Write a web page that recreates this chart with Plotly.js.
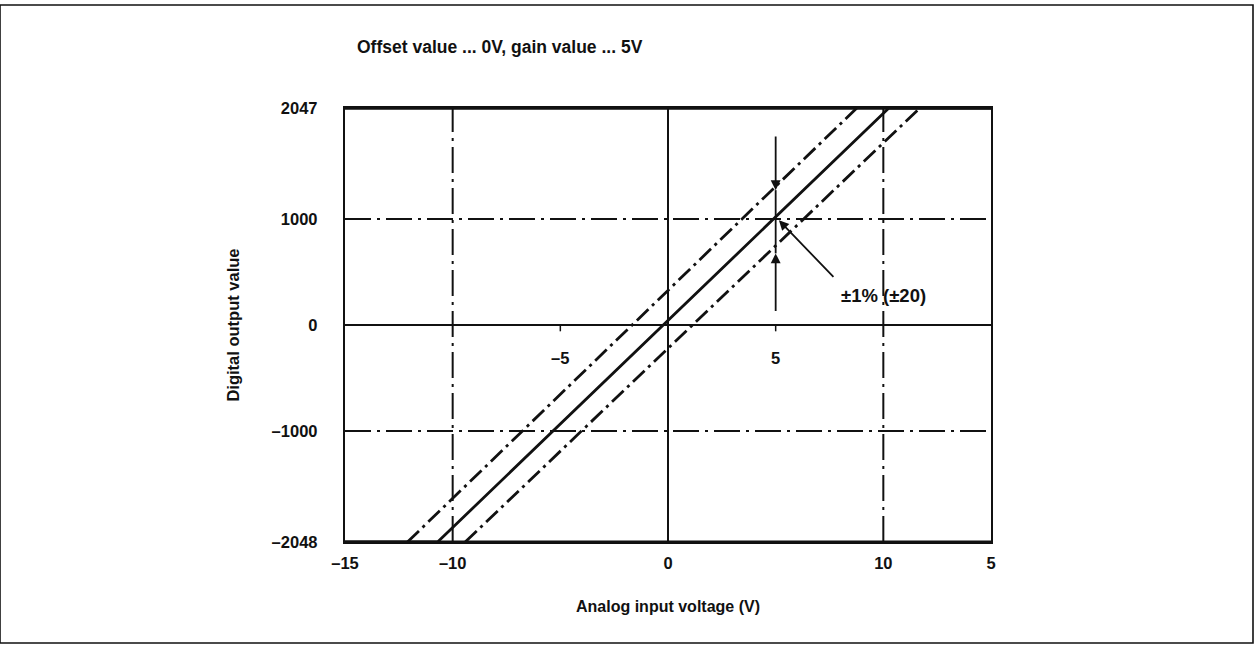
<!DOCTYPE html>
<html>
<head>
<meta charset="utf-8">
<script src="https://cdn.plot.ly/plotly-3.0.1.min.js"></script>
<style>
html,body{margin:0;padding:0;background:#fff;}
#chart{width:1259px;height:648px;}
</style>
</head>
<body>
<div id="chart"></div>
<script>
// ---- data ----
const idealVoltage = [-15, -10.7, 10.26, 15];
const idealDigital = [-2048, -2048, 2047, 2047];
const upperVoltage = [-12.1, 8.77];
const upperDigital = [-2048, 2047];
const lowerVoltage = [-9.42, 11.7];
const lowerDigital = [-2048, 2047];

const xTickVals = [-15, -10, 0, 10, 15];
const xTickText = ['–15', '–10', '0', '10', '5'];
const yTickVals = [-2048, -1000, 0, 1000, 2047];
const yTickText = ['–2048', '–1000', '0', '1000', '2047'];
const innerTickVals = [-5, 5];
const innerTickText = ['–5', '5'];
const gridX = [-10, 10];
const gridY = [-1000, 1000];

const gainVoltage = 5;
const arrowTopStart = 1792, arrowTopTip = 1272;
const arrowBotStart = 117, arrowBotTip = 675;
const pointerTail = [7.75, 439], pointerTip = [5.15, 988];
const bandLabel = '±1% (±20)';
const bandLabelPos = [7.95, 280];

const FONT = 'Liberation Sans, Arial, Helvetica, sans-serif';
const INK = '#111';
const dashDot = '16px,5px,3px,5px';
const gridDash = '26px,6px,3px,6px';

const traces = [
  {x: idealVoltage, y: idealDigital, mode: 'lines', line: {color: INK, width: 2.8}, hoverinfo: 'skip'},
  {x: upperVoltage, y: upperDigital, mode: 'lines', line: {color: INK, width: 2.8, dash: dashDot}, hoverinfo: 'skip'},
  {x: lowerVoltage, y: lowerDigital, mode: 'lines', line: {color: INK, width: 2.8, dash: dashDot}, hoverinfo: 'skip'}
];

const shapes = [];
gridX.forEach(v => shapes.push({type: 'line', xref: 'x', yref: 'paper', x0: v, x1: v, y0: 0, y1: 1,
  line: {color: INK, width: 2}, layer: 'below'}));
shapes.forEach(s => s.line.dash = gridDash);
gridY.forEach(v => shapes.push({type: 'line', xref: 'paper', yref: 'y', x0: 0, x1: 1, y0: v, y1: v,
  line: {color: INK, width: 2, dash: gridDash}, layer: 'below'}));
// solid zero lines
shapes.push({type: 'line', xref: 'x', yref: 'paper', x0: 0, x1: 0, y0: 0, y1: 1, line: {color: INK, width: 2}, layer: 'below'});
shapes.push({type: 'line', xref: 'paper', yref: 'y', x0: 0, x1: 1, y0: 0, y1: 0, line: {color: INK, width: 2}, layer: 'below'});
// small ticks under zero line
innerTickVals.forEach(v => shapes.push({type: 'line', xref: 'x', yref: 'y', x0: v, x1: v, y0: 0, y1: -60,
  line: {color: INK, width: 1.5}}));
// heavy top / bottom borders
shapes.push({type: 'line', xref: 'paper', yref: 'paper', x0: 0, x1: 1, y0: 1, y1: 1, line: {color: INK, width: 3.5}});
shapes.push({type: 'line', xref: 'paper', yref: 'paper', x0: 0, x1: 1, y0: 0, y1: 0, line: {color: INK, width: 3}});
// vertical measuring line between arrowheads
shapes.push({type: 'line', xref: 'x', yref: 'y', x0: gainVoltage, x1: gainVoltage, y0: arrowBotTip, y1: arrowTopTip,
  line: {color: INK, width: 1.8}});
// outer frame of the figure
shapes.push({type: 'rect', xref: 'paper', yref: 'paper', x0: -345/646, x1: (1253-345)/646, y0: -(643-542)/434, y1: (542-5)/434,
  line: {color: INK, width: 1.6}});

const annotations = [];
innerTickVals.forEach((v, i) => annotations.push({x: v, y: 0, xref: 'x', yref: 'y', text: innerTickText[i],
  showarrow: false, yshift: -33, font: {family: FONT, size: 16.5, color: INK, weight: 'bold'}}));
annotations.push({x: gainVoltage, y: arrowTopTip, ax: gainVoltage, ay: arrowTopStart, xref: 'x', yref: 'y', axref: 'x', ayref: 'y',
  text: '', showarrow: true, arrowhead: 2, arrowsize: 1.1, arrowwidth: 1.8, arrowcolor: INK});
annotations.push({x: gainVoltage, y: arrowBotTip, ax: gainVoltage, ay: arrowBotStart, xref: 'x', yref: 'y', axref: 'x', ayref: 'y',
  text: '', showarrow: true, arrowhead: 2, arrowsize: 1.1, arrowwidth: 1.8, arrowcolor: INK});
annotations.push({x: pointerTip[0], y: pointerTip[1], ax: pointerTail[0], ay: pointerTail[1], xref: 'x', yref: 'y', axref: 'x', ayref: 'y',
  text: '', showarrow: true, arrowhead: 2, arrowsize: 1.1, arrowwidth: 1.8, arrowcolor: INK});
annotations.push({x: bandLabelPos[0], y: bandLabelPos[1], xref: 'x', yref: 'y', text: bandLabel, showarrow: false,
  xanchor: 'left', yanchor: 'middle', font: {family: FONT, size: 18.5, color: INK, weight: 'bold'}});

const layout = {
  width: 1259, height: 648,
  margin: {l: 345, r: 268, t: 108, b: 106, pad: 0},
  paper_bgcolor: '#fff', plot_bgcolor: '#fff',
  showlegend: false,
  title: {text: 'Offset value ... 0V, gain value ... 5V', x: 357/1259, xanchor: 'left', y: 1 - 47/648, yanchor: 'middle',
    font: {family: FONT, size: 17.5, color: INK, weight: 'bold'}},
  xaxis: {range: [-15, 15], showgrid: false, zeroline: false, showline: true, mirror: true, linecolor: INK, linewidth: 2.2,
    tickvals: xTickVals, ticktext: xTickText, ticks: '', ticklabelstandoff: 5,
    tickfont: {family: FONT, size: 16.5, color: INK, weight: 'bold'},
    title: {text: 'Analog input voltage (V)', standoff: 30, font: {family: FONT, size: 16, color: INK, weight: 'bold'}}},
  yaxis: {range: [-2048, 2047], showgrid: false, zeroline: false, showline: true, mirror: true, linecolor: INK, linewidth: 2.2,
    tickvals: yTickVals, ticktext: yTickText, ticks: '', ticklabelstandoff: 22,
    tickfont: {family: FONT, size: 16.5, color: INK, weight: 'bold'},
    title: {text: 'Digital output value', standoff: 28, font: {family: FONT, size: 16.5, color: INK, weight: 'bold'}}},
  shapes: shapes,
  annotations: annotations
};

Plotly.newPlot('chart', traces, layout, {displayModeBar: false, staticPlot: true});
</script>
</body>
</html>
